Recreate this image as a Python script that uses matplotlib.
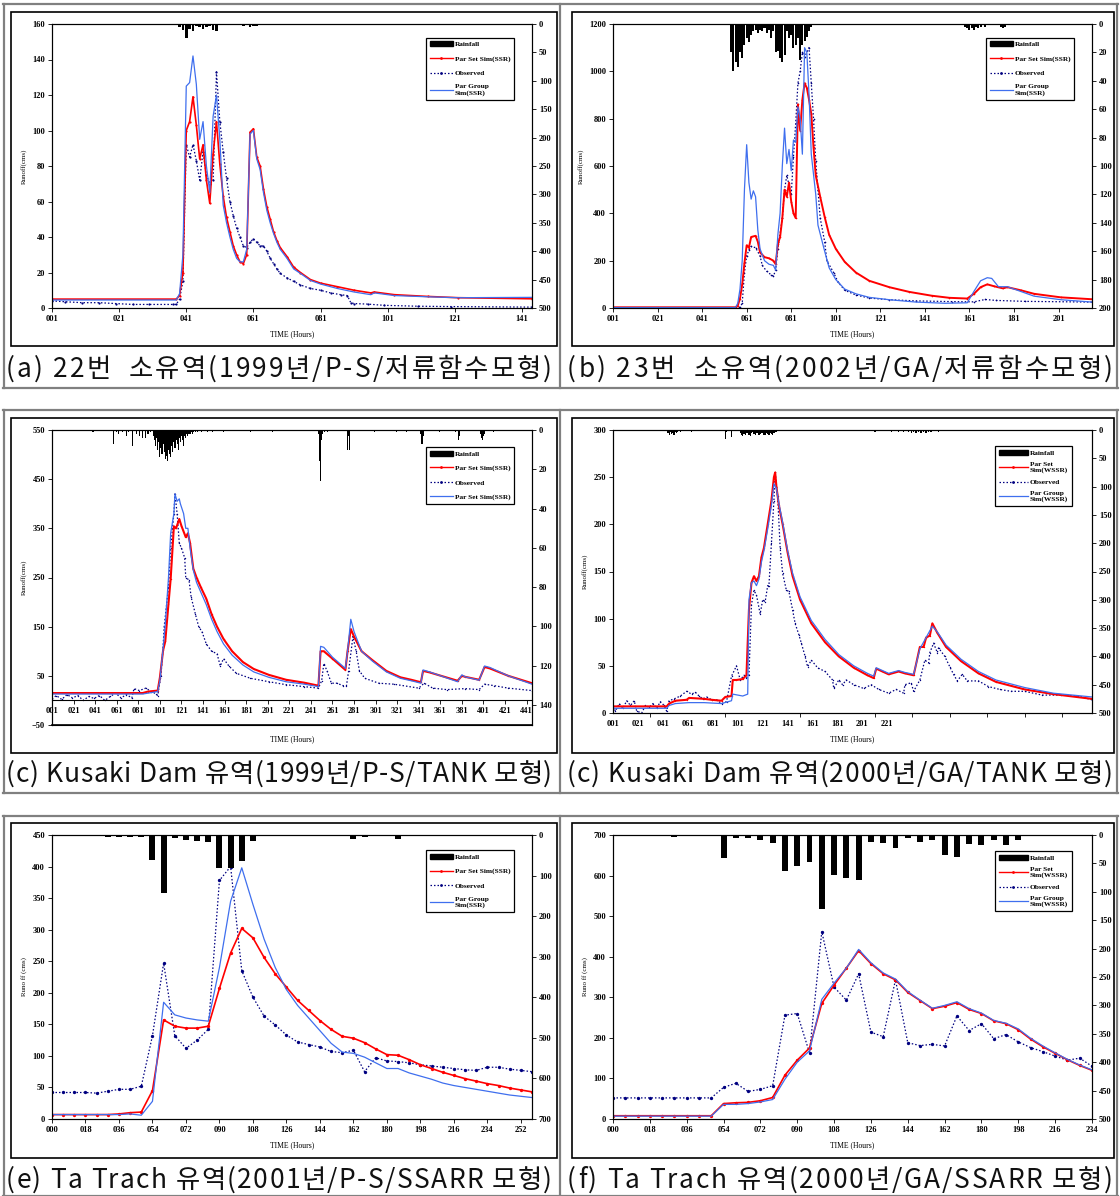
import numpy as np
import matplotlib
matplotlib.use("Agg")
import matplotlib.pyplot as plt
from matplotlib.lines import Line2D
from matplotlib.patches import Patch, Rectangle

plt.rcParams['font.family'] = ['Liberation Serif', 'DejaVu Serif']
plt.rcParams['font.weight'] = 'bold'

W, H = 1120, 1196

# ---------------- (a) 22번 소유역 1999 ----------------
a_red_x = [1, 38, 39, 40, 41, 42, 43, 44, 45, 46, 47, 48, 49, 50, 51, 52, 53, 54, 55, 56, 57, 58, 59,
           60, 61, 62, 63, 64, 65, 66, 67, 68, 69, 71, 73, 75, 78, 81, 86, 91, 96, 97, 103, 113, 122, 144]
a_red_y = [5, 5, 7, 20, 100, 105, 119, 103, 84, 92, 72, 59, 87, 105, 81, 63, 51, 43, 35, 30, 26, 25, 30,
           99, 101, 85, 80, 67, 57, 50, 43, 38, 34, 29, 23, 20, 16, 14, 12, 10, 8.5, 9, 7.5, 6.5, 5.8, 5.2]
a_blue_x = a_red_x
a_blue_y = [4.5, 4.5, 8, 30, 125, 127, 142, 126, 95, 105, 80, 65, 108, 120, 95, 58, 48, 40, 33, 28, 26, 26, 33,
            98, 100, 84, 78, 65, 55, 48, 42, 37, 33, 28, 22, 19.5, 15.5, 13.5, 11, 9, 7.5, 8.5, 7, 6.3, 5.8, 6]
a_obs_x = [1, 5, 10, 15, 20, 25, 30, 37, 38, 39, 40, 41, 42, 43, 44, 45, 46, 47, 48, 49, 50, 51, 52, 53, 54,
           55, 56, 57, 58, 59, 60, 61, 62, 63, 64, 65, 66, 67, 68, 69, 71, 73, 75, 78, 81, 84, 87, 89, 90, 91,
           95, 100, 110, 120, 144]
a_obs_y = [4, 3.5, 3, 3, 2.5, 2, 2, 2, 2, 5, 15, 92, 85, 92, 83, 72, 88, 75, 70, 72, 133, 105, 88, 73, 60,
           52, 45, 40, 35, 34, 37, 39, 37, 35, 35, 32, 28, 25, 22, 19.5, 17, 15, 13, 11, 10, 8.5, 7.5, 7, 3, 2.5,
           2.2, 1.5, 1, 0.8, 0.5]
a_rain_x = [21, 39, 40, 41, 42, 43, 44, 45, 46, 47, 48, 49, 50, 58, 59, 60, 61, 62, 63]
a_rain_y = [2, 6, 10, 24, 8, 12, 4, 6, 9, 5, 4, 11, 12, 3, 2, 6, 4, 3, 2]

# ---------------- (b) 23번 소유역 2002 ----------------
b_red_x = [1, 56, 57, 58, 59, 60, 61, 62, 63, 65, 66, 67, 69, 71, 73, 74, 75, 76, 77, 78, 79, 80, 81, 82, 83,
           84, 85, 86, 87, 88, 89, 90, 91, 92, 94, 96, 98, 101, 105, 110, 116, 125, 134, 144, 152, 160, 163,
           166, 169, 172, 176, 178, 184, 190, 202, 216]
b_red_y = [3, 3, 10, 40, 100, 190, 265, 255, 300, 305, 280, 235, 215, 210, 200, 185, 270, 300, 380, 500, 470,
           530, 450, 400, 380, 860, 750, 880, 950, 930, 880, 820, 680, 560, 470, 385, 310, 250, 195, 150, 115,
           88, 68, 52, 43, 40, 60, 88, 100, 92, 83, 88, 75, 60, 45, 37]
b_blue_x = [1, 56, 57, 58, 59, 60, 61, 62, 63, 64, 65, 66, 67, 69, 71, 73, 74, 75, 76, 77, 78, 79, 80, 81, 82,
            83, 84, 85, 86, 87, 88, 89, 90, 92, 93, 96, 98, 101, 105, 110, 116, 125, 137, 150, 160, 163, 166,
            169, 171, 174, 178, 184, 190, 202, 216]
b_blue_y = [2, 2, 20, 80, 200, 500, 690, 530, 460, 495, 470, 330, 250, 200, 185, 180, 160, 310, 400, 600, 760,
            610, 670, 580, 710, 700, 850, 800, 650, 1100, 1080, 900, 650, 480, 350, 240, 170, 120, 80, 60, 45,
            35, 25, 20, 22, 70, 115, 128, 125, 90, 90, 70, 50, 35, 25]
b_obs_x = [1, 57, 58, 59, 60, 61, 62, 63, 65, 67, 68, 70, 72, 73, 74, 75, 77, 78, 79, 81, 82, 83, 84, 85, 86,
           87, 89, 90, 91, 92, 93, 94, 96, 97, 100, 102, 105, 110, 116, 125, 137, 153, 163, 168, 173, 186, 216]
b_obs_y = [1, 1, 3, 20, 150, 220, 245, 260, 255, 220, 180, 155, 140, 135, 160, 250, 380, 500, 560, 480, 640,
           780, 950, 1000, 1080, 1060, 1100, 950, 800, 620, 500, 380, 280, 200, 150, 110, 75, 55, 42, 35, 30,
           27, 26, 36, 32, 28, 25]
b_rain_x = [54, 55, 56, 57, 58, 59, 60, 61, 62, 63, 64, 65, 66, 67, 68, 69, 70, 71, 72, 73, 74, 75, 76, 77,
            78, 79, 80, 81, 82, 83, 84, 85, 86, 87, 88, 89, 90,
            92, 120, 135, 158, 159, 160, 161, 162, 163, 164, 165, 166, 168, 171, 175, 176, 177, 186, 193, 203,
            207, 210, 213]
b_rain_y = [20, 33, 27, 30, 20, 24, 15, 10, 13, 8, 5, 4, 6, 4, 5, 3, 6, 4, 10, 5, 20, 19, 24, 27,
            22, 5, 10, 8, 17, 15, 10, 25, 15, 12, 9, 5, 2,
            1, 1, 0.5, 1, 2, 3, 4, 3, 4, 2, 3, 2, 2, 1, 2, 3, 2, 1, 1, 1,
            1, 1, 1]

# ---------------- (c) Kusaki Dam 1999 ----------------
c1_red_x = [1, 85, 90, 99, 101, 104, 106, 109, 111, 114, 116, 119, 121, 125, 127, 129, 132, 135, 139, 144, 149,
            154, 160, 168, 178, 188, 202, 218, 235, 248, 250, 253, 261, 273, 275, 278, 281, 288, 298, 311, 324,
            334, 343, 345, 351, 377, 381, 384, 397, 402, 407, 424, 446]
c1_red_y = [15, 15, 18, 20, 46, 102, 120, 197, 247, 354, 350, 369, 355, 332, 340, 320, 268, 250, 230, 207, 175,
            150, 125, 100, 78, 64, 52, 42, 36, 30, 100, 100, 85, 62, 100, 145, 130, 100, 82, 60, 47,
            42, 37, 60, 57, 40, 50, 48, 42, 68, 65, 50, 35]
c1_blue_x = [1, 85, 99, 101, 104, 106, 109, 111, 114, 115, 117, 119, 120, 123, 125, 127, 129, 132, 135, 139,
             144, 149, 154, 160, 168, 178, 188, 202, 218, 235, 248, 250, 253, 261, 273, 275, 278, 281, 288, 298,
             311, 324, 334, 343, 345, 351, 377, 381, 384, 397, 402, 407, 424, 446]
c1_blue_y = [13, 13, 18, 40, 105, 155, 250, 340, 380, 420, 405, 410, 400, 380, 350, 350, 310, 265, 240, 220,
             195, 165, 140, 115, 92, 72, 58, 47, 38, 33, 28, 110, 108, 88, 65, 100, 165, 140, 100, 80,
             58, 45, 40, 35, 62, 58, 38, 52, 48, 41, 70, 67, 50, 33]
c1_obs_x = [1, 5, 10, 15, 20, 25, 30, 35, 40, 45, 50, 55, 60, 65, 70, 75, 77, 82, 88, 93, 97, 99, 102, 104,
            105, 109, 111, 114, 115, 117, 119, 121, 124, 125, 128, 130, 134, 137, 140, 144, 149, 154, 157, 160,
            165, 172, 185, 202, 218, 235, 248, 251, 253, 256, 260, 265, 271, 274, 276, 280, 283, 286, 291, 304,
            318, 341, 346, 354, 367, 384, 397, 402, 411, 424, 446]
c1_obs_y = [3, 10, 2, 12, 5, 10, 0, 8, 4, 10, 0, 8, 15, 5, 12, 5, 24, 20, 25, 18, 14, 10, 50, 110,
            150, 230, 310, 380, 420, 380, 320, 310, 290, 250, 245, 210, 175, 150, 140, 115, 100, 95, 70, 85,
            70, 55, 45, 38, 32, 28, 25, 40, 75, 60, 35, 35, 30, 30, 60, 130, 100, 60, 45, 35,
            33, 25, 35, 25, 22, 24, 22, 33, 30, 25, 20]
c1_rain_x = [39, 58, 61, 63, 66, 70, 72, 76, 79, 82, 85, 88, 90, 92, 95, 96, 97, 98, 99, 100,
             101, 102, 103, 104, 105, 106, 107, 108, 109, 110, 111, 112, 113, 114, 115, 116, 117, 118, 119,
             120, 121, 122, 123, 124, 125, 126, 127, 128, 129, 130, 131, 132,
             134, 136, 140, 145, 150, 160, 185, 205, 248, 249, 250, 251, 252, 254, 256, 275, 276, 277,
             300, 320, 330, 343, 344, 345, 360, 375, 378, 379, 398, 399, 400, 401, 402, 410]
c1_rain_y = [1, 7, 1, 2, 1, 3, 1, 8, 2, 3, 4, 4, 2, 1, 3, 5, 8, 4, 10, 6,
             14, 9, 12, 7, 11, 15, 13, 16, 10, 12, 14, 8, 11, 6, 9, 5, 7, 10, 4,
             6, 3, 5, 8, 3, 4, 2, 3, 2, 2, 1, 2, 1,
             1, 1, 1, 1, 1, 1, 1, 1, 2, 16, 26, 5, 2, 1, 1, 10, 3, 10,
             1, 1, 1, 2, 7, 3, 1, 1, 5, 3, 2, 4, 5, 3, 2, 1]

# ---------------- (c) Kusaki Dam 2000 ----------------
c2_red_x = [1, 44, 46, 51, 60, 62, 74, 80, 88, 91, 96, 97, 100, 105, 108, 110, 112, 114, 116, 118, 120, 122,
            125, 128, 130, 131, 132, 134, 137, 141, 145, 151, 160, 171, 182, 194, 205, 210, 212, 217, 222, 230,
            235, 242, 247, 250, 252, 255, 257, 261, 268, 280, 294, 308, 331, 354, 385]
c2_red_y = [7, 7, 10, 13, 14, 16, 15, 14, 13, 17, 18, 35, 35, 36, 40, 110, 138, 145, 140, 145, 165, 175,
            200, 225, 250, 255, 240, 220, 200, 170, 145, 120, 95, 75, 60, 48, 40, 37, 47, 44, 41, 44,
            42, 40, 70, 70, 80, 82, 95, 85, 70, 55, 42, 33, 25, 20, 15]
c2_blue_x = [1, 44, 46, 51, 62, 74, 88, 96, 97, 105, 109, 110, 112, 114, 116, 118, 120, 122, 125, 128, 130,
             132, 134, 137, 141, 145, 151, 160, 171, 182, 194, 205, 210, 212, 217, 222, 230, 235, 242, 247,
             252, 257, 261, 268, 280, 294, 308, 331, 354, 385]
c2_blue_y = [5, 5, 8, 10, 11, 11, 10, 13, 20, 18, 20, 120, 138, 140, 135, 142, 160, 172, 195, 220, 243,
             238, 222, 202, 172, 148, 123, 98, 78, 62, 50, 42, 39, 48, 45, 42, 45, 43, 41, 68,
             80, 92, 86, 72, 57, 44, 35, 27, 21, 17]
c2_obs_x = [1, 3, 6, 9, 12, 15, 18, 20, 24, 27, 30, 33, 36, 39, 42, 44, 46, 50, 55, 60, 64, 67, 70, 73, 76,
            80, 84, 88, 92, 96, 100, 103, 106, 108, 110, 112, 114, 116, 119, 121, 123, 125, 126, 128, 130, 131,
            133, 135, 137, 140, 142, 145, 147, 150, 152, 155, 157, 160, 165, 171, 177, 178, 182, 185, 188, 194,
            202, 208, 214, 222, 228, 234, 235, 240, 242, 247, 251, 254, 255, 258, 261, 262, 267, 271, 274, 277,
            281, 285, 294, 302, 311, 320, 331, 345, 360, 374, 385]
c2_obs_y = [7, 2, 10, 5, 13, 8, 13, 2, 0, 8, 6, 10, 5, 12, 8, 2, 13, 15, 18, 23, 20, 22, 18, 15, 17,
            14, 14, 10, 12, 39, 50, 35, 40, 37, 40, 115, 130, 125, 105, 120, 118, 135, 135, 180, 225, 255,
            230, 175, 148, 130, 129, 109, 95, 83, 74, 60, 49, 56, 48, 44, 35, 26, 35, 30, 35, 30,
            26, 30, 25, 21, 25, 21, 30, 32, 23, 35, 56, 53, 64, 74, 64, 69, 60, 49, 41, 34,
            41, 34, 34, 28, 25, 23, 23, 19, 19, 18, 14]
c2_rain_x = [5, 9, 13, 45, 46, 47, 48, 49, 50, 51, 52, 53, 55, 64, 91, 92, 96, 97,
             103, 104, 105, 106, 107, 108, 109, 110, 111, 112, 113, 114, 115, 116, 117, 118, 119, 120, 121,
             122, 123, 124, 125, 126, 127, 128, 129, 130, 131, 132,
             211, 212, 224, 226, 230, 234, 238, 240, 242, 244, 246, 248, 250, 252, 254, 256, 258, 262, 264]
c2_rain_y = [2, 1, 2, 6, 8, 4, 7, 5, 8, 3, 6, 4, 3, 4, 16, 3, 13, 2,
             5, 8, 10, 7, 9, 6, 5, 8, 10, 6, 4, 7, 8, 5, 6, 9, 7, 5, 6,
             8, 9, 6, 7, 8, 5, 7, 8, 6, 4, 3,
             4, 2, 3, 2, 3, 4, 3, 5, 4, 6, 3, 5, 4, 6, 3, 4, 2, 3, 2]

# ---------------- (e) Ta Trach 2001 (6-hourly) ----------------
e_x = list(range(0, 259, 6))
e_red = [7, 7, 7, 7, 7, 7, 8, 10, 11, 45, 157, 147, 144, 144, 147, 207, 263, 302, 287, 256, 230, 209,
         188, 172, 156, 142, 131, 128, 121, 111, 102, 101, 94, 86, 80, 74, 69, 64, 60, 56, 53, 49, 46, 43]
e_blue = [7, 7, 7, 7, 7, 7, 7, 8, 6, 28, 185, 165, 160, 157, 155, 240, 345, 398, 340, 285, 240, 205,
          180, 160, 140, 120, 106, 104, 98, 89, 80, 80, 73, 68, 63, 57, 53, 50, 47, 44, 41, 38, 36, 34]
e_obs = [42, 42, 42, 42, 41, 44, 47, 47, 52, 132, 247, 132, 112, 125, 142, 378, 400, 235, 193, 163, 149, 133,
         122, 118, 114, 107, 105, 109, 75, 97, 92, 91, 89, 86, 84, 82, 80, 78, 77, 82, 82, 79, 77, 75]
e_rain_x = [30, 36, 42, 48, 54, 60, 66, 72, 78, 84, 90, 96, 102, 108, 126, 138, 156, 162, 168, 186]
e_rain_y = [5, 6, 6, 6, 62, 143, 7, 13, 15, 18, 81, 81, 64, 16, 3, 3, 3, 10, 5, 9]

# ---------------- (f) Ta Trach 2000 (6-hourly) ----------------
f_x = list(range(0, 235, 6))
f_red = [8, 8, 8, 8, 8, 8, 8, 8, 8, 38, 40, 41, 45, 53, 108, 145, 175, 285, 330, 372, 415, 383, 358, 343,
         312, 292, 272, 278, 287, 270, 260, 242, 235, 220, 197, 178, 162, 146, 132, 120]
f_blue = [7, 7, 7, 7, 7, 7, 7, 7, 7, 36, 36, 38, 42, 48, 98, 140, 168, 295, 335, 372, 418, 385, 360, 345,
          314, 293, 273, 280, 289, 272, 261, 243, 236, 222, 199, 180, 163, 147, 133, 121]
f_obs = [52, 52, 52, 52, 52, 52, 52, 52, 52, 78, 88, 68, 73, 82, 256, 260, 163, 462, 325, 293, 358, 214, 203,
         343, 188, 181, 184, 180, 254, 218, 235, 198, 208, 190, 176, 166, 155, 145, 150, 130]
f_rain_x = [30, 54, 60, 66, 72, 78, 84, 90, 96, 102, 108, 114, 120, 126, 132, 138, 144, 150, 156, 162,
            168, 174, 180, 186, 192, 198, 210]
f_rain_y = [4, 41, 5, 5, 9, 14, 63, 54, 48, 130, 71, 76, 80, 13, 14, 23, 6, 13, 9, 35, 38, 15, 17, 8, 17, 9, 2]

captions = ["(a) 22번  소유역(1999년/P-S/저류함수모형)",
            "(b) 23번  소유역(2002년/GA/저류함수모형)",
            "(c) Kusaki Dam 유역(1999년/P-S/TANK 모형)",
            "(c) Kusaki Dam 유역(2000년/GA/TANK 모형)",
            "(e) Ta Trach 유역(2001년/P-S/SSARR 모형)",
            "(f) Ta Trach 유역(2000년/GA/SSARR 모형)"]

RED = '#ff0000'
NAVY = '#000080'
BLUE = '#3f6fee'

fig = plt.figure(figsize=(W / 100, H / 100), dpi=100)


def fx(x):
    return x / W


def fy(y):
    return 1 - y / H


def add_axes(x0, y0, x1, y1):
    return fig.add_axes([fx(x0), fy(y1), (x1 - x0) / W, (y1 - y0) / H])


def draw(box, red, obs, blue, rain, bar_w, xlim, xt, ylim, yt, rlim, rt, names,
         leg_anchor, ylab, spacing, ms, zero_axis=False, xt_marks=None, xlabpad=5, hlen=3.2, red_lw=1.2):
    ax = add_axes(*box)
    ax.plot(obs[0], obs[1], color=NAVY, lw=0.9, ls=(0, (1.2, 1.6)), marker='o', ms=ms, mew=0)
    ax.plot(red[0], red[1], color=RED, lw=red_lw, marker='o', ms=ms, mew=0)
    ax.plot(blue[0], blue[1], color=BLUE, lw=0.9)
    ax.set_xlim(xlim)
    ax.set_ylim(ylim)
    ax.set_yticks(yt)
    ax.set_xticks(xt)
    ax.set_xticklabels([f'{v:03d}' for v in xt])
    ax.tick_params(which='both', direction='out', length=3, width=0.6, labelsize=6, pad=2)
    if xt_marks is not None:
        ax.tick_params(axis='x', which='major', length=0, pad=5)
        ax.set_xticks(xt_marks, minor=True)
        ax.tick_params(axis='x', which='minor', length=3, width=0.6)
    for s in ax.spines.values():
        s.set_linewidth(0.8)
    if zero_axis:
        ax.spines['bottom'].set_position(('data', 0))
        ax.plot(xlim, [ylim[0], ylim[0]], color='k', lw=1.2, clip_on=False)
    ax.set_ylabel(ylab, fontsize=5, labelpad=4)
    ax.set_xlabel('TIME (Hours)', fontsize=5.5, labelpad=xlabpad)

    ax2 = ax.twinx()
    ax2.bar(rain[0], rain[1], width=bar_w, color='k', linewidth=0)
    ax2.set_ylim(rlim)
    ax2.set_yticks(rt)
    ax2.tick_params(direction='out', length=3, width=0.6, labelsize=6, pad=2)
    ax2.set_xlim(xlim)

    handles = [Patch(facecolor='k', edgecolor='k'),
               Line2D([], [], color=RED, lw=1.0, marker='o', ms=2, mew=0),
               Line2D([], [], color=NAVY, lw=0.9, ls=(0, (1.2, 1.6)), marker='o', ms=2, mew=0),
               Line2D([], [], color=BLUE, lw=0.9)]
    leg = ax2.legend(handles, names, loc='upper right', bbox_to_anchor=leg_anchor,
                     fontsize=5.3, frameon=True, fancybox=False, framealpha=1, edgecolor='k',
                     handlelength=hlen, handletextpad=0.2, labelspacing=spacing, borderpad=0.5)
    leg.get_frame().set_linewidth(0.9)
    return ax


names_ssr = ['Rainfall', 'Par Set Sim(SSR)', 'Observed', 'Par Group\nSim(SSR)']
names_c1 = ['Rainfall', 'Par Set Sim(SSR)', 'Observed', 'Par Set Sim(SSR)']
names_wssr = ['Rainfall', 'Par Set\nSim(WSSR)', 'Observed', 'Par Group\nSim(WSSR)']

draw((52, 24, 532, 308), (a_red_x, a_red_y), (a_obs_x, a_obs_y), (a_blue_x, a_blue_y),
     (a_rain_x, a_rain_y), 0.8, (1, 144), list(range(1, 142, 20)), (0, 160), list(range(0, 161, 20)),
     (500, 0), list(range(0, 501, 50)), names_ssr, (0.97, 0.965), 'Runoff(cms)', 1.1, 1.6)

draw((613, 24, 1092, 308), (b_red_x, b_red_y), (b_obs_x, b_obs_y), (b_blue_x, b_blue_y),
     (b_rain_x, b_rain_y), 0.9, (1, 216), list(range(1, 202, 20)), (0, 1200), list(range(0, 1201, 200)),
     (200, 0), list(range(0, 201, 20)), names_ssr, (0.97, 0.965), 'Runoff(cms)', 1.1, 1.2, red_lw=1.4)

draw((52, 430, 532, 725), (c1_red_x, c1_red_y), (c1_obs_x, c1_obs_y), (c1_blue_x, c1_blue_y),
     (c1_rain_x, c1_rain_y), 1.0, (1, 446), list(range(1, 442, 20)), (-50, 550),
     list(range(-50, 551, 100)), (150.3, 0), list(range(0, 141, 20)), names_c1, (0.97, 0.955),
     'Runoff(cms)', 1.1, 1.0, zero_axis=True, xlabpad=14, red_lw=1.5)

draw((613, 430, 1092, 713), (c2_red_x, c2_red_y), (c2_obs_x, c2_obs_y), (c2_blue_x, c2_blue_y),
     (c2_rain_x, c2_rain_y), 1.0, (1, 385), list(range(1, 222, 20)), (0, 300), list(range(0, 301, 50)),
     (500, 0), list(range(0, 501, 50)), names_wssr, (0.965, 0.955), 'Runoff(cms)', 0.75, 1.0,
     xt_marks=list(range(1, 362, 30)), hlen=4.0, red_lw=1.5)

draw((52, 835, 532, 1119), (e_x, e_red), (e_x, e_obs), (e_x, e_blue),
     (e_rain_x, e_rain_y), 3.2, (0, 258), list(range(0, 253, 18)), (0, 450), list(range(0, 451, 50)),
     (700, 0), list(range(0, 701, 100)), names_ssr, (0.97, 0.96), 'Runo ff (cms)', 1.1, 2.4)

draw((613, 835, 1092, 1119), (f_x, f_red), (f_x, f_obs), (f_x, f_blue),
     (f_rain_x, f_rain_y), 2.9, (0, 234), list(range(0, 235, 18)), (0, 700), list(range(0, 701, 100)),
     (500, 0), list(range(0, 501, 50)), names_wssr, (0.965, 0.955), 'Runo ff (cms)', 0.75, 2.4, hlen=4.0)

# table lines (grey) and inner black frames
grey = '#808080'
for y0, y1 in [(4, 388), (410, 793), (816, 1196)]:
    for yy in (y0, y1):
        fig.add_artist(Line2D([fx(3), fx(1118)], [fy(yy), fy(yy)], color=grey, lw=1.6))
    for xx in (4, 560, 1117):
        fig.add_artist(Line2D([fx(xx), fx(xx)], [fy(y0), fy(y1)], color=grey, lw=1.6))

for y0, y1 in [(12, 346), (418, 753), (823, 1158)]:
    for x0, x1 in [(11, 557), (572, 1114)]:
        fig.add_artist(Rectangle((fx(x0), fy(y1)), (x1 - x0) / W, (y1 - y0) / H, fill=False,
                                 ec='k', lw=1.2, transform=fig.transFigure))

# captions: spread over the cell width like the original (letter-spaced)
renderer = fig.canvas.get_renderer()
cap_kw = dict(fontsize=19, family=['Noto Sans CJK KR', 'DejaVu Sans'], weight='normal', color='#111111')


def caption(x0, base_y, s, width_px):
    probe = fig.text(0, 0, 'l', **cap_kw)
    wl = probe.get_window_extent(renderer).width
    adv = []
    for i in range(len(s) + 1):
        probe.set_text(s[:i] + 'l')
        adv.append(probe.get_window_extent(renderer).width - wl)
    probe.remove()
    extra = (width_px - adv[-1]) / (len(s) - 1)
    for i, ch in enumerate(s):
        if ch == ' ':
            continue
        fig.text(fx(x0 + adv[i] + i * extra), fy(base_y), ch, ha='left', va='baseline', **cap_kw)


cap_pos = [(6, 377), (567, 377), (6, 782), (567, 782), (6, 1188), (567, 1188)]
for (cx, cy), txt in zip(cap_pos, captions):
    caption(cx, cy, txt, 546)

fig.savefig('out.png', dpi=100)
